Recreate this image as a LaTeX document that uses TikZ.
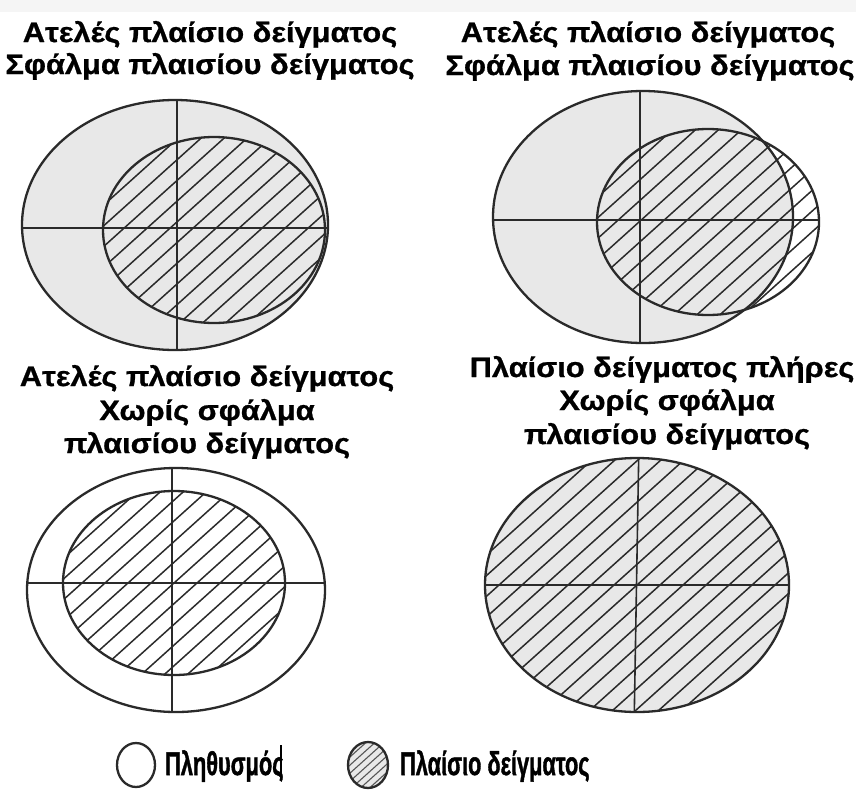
\documentclass[tikz,border=0pt]{standalone}
\usepackage{fontspec}
\setmainfont{Liberation Sans}
\newfontfamily\heavyfont[FakeBold=0.8]{Liberation Sans Bold}
\newfontfamily\legfont[FakeBold=1.6]{Liberation Sans Bold}
\definecolor{fillgray}{HTML}{E8E8E8}
\definecolor{inkc}{HTML}{2A2A2A}
\newcommand\myhatch[6]{% cx cy rx ry spacing count
  \begin{scope}
    \clip (#1,#2) ellipse [x radius=#3, y radius=#4];
    \foreach \i in {-#6,...,#6}
      \draw[hatchline] ({#1+\i*#5-300},{#2+270}) -- ++(600,-540);
  \end{scope}}
\begin{document}
\begin{tikzpicture}[x=1pt,y=-1pt,
  outline/.style={draw=inkc,line width=2.3pt},
  hatchline/.style={draw=inkc,line width=1.5pt},
  crossline/.style={draw=inkc,line width=1.6pt},
  title/.style={font=\heavyfont\fontsize{28}{30}\selectfont,anchor=base,inner sep=0pt,xscale=1.1},
  legend/.style={font=\legfont\fontsize{33}{36}\selectfont,anchor=base west,inner sep=0pt,xscale=0.66}]
\useasboundingbox (0,0) rectangle (856,790);
\fill[white] (0,0) rectangle (856,790);
\fill[black!4] (0,0) rectangle (856,12);

% ---------- panel 1 (top left)
\fill[fillgray] (175,225) ellipse [x radius=153, y radius=125];
\myhatch{214}{230}{111}{93}{23}{20}
\begin{scope}
  \clip (175,225) ellipse [x radius=153, y radius=125];
  \draw[crossline] (177,90) -- (177,360);
  \draw[crossline] (10,228) -- (340,228);
\end{scope}
\draw[outline] (175,225) ellipse [x radius=153, y radius=125];
\draw[outline] (214,230) ellipse [x radius=111, y radius=93];
\node[title] (t1a) at (210,42) {Ατελές πλαίσιο δείγματος};
\node[title] (t1b) at (210,74) {Σφάλμα πλαισίου δείγματος};

% ---------- panel 2 (top right)
\fill[fillgray] (643,217) ellipse [x radius=150, y radius=126];
\fill[white] (708,222) ellipse [x radius=111, y radius=93];
\begin{scope}
  \clip (643,217) ellipse [x radius=150, y radius=126];
  \fill[fillgray] (708,222) ellipse [x radius=111, y radius=93];
\end{scope}
\myhatch{708}{222}{111}{93}{23}{20}
\begin{scope}
  \clip (643,217) ellipse [x radius=150, y radius=126]
        (708,222) ellipse [x radius=111, y radius=93];
  \draw[crossline] (640,80) -- (640,360);
  \draw[crossline] (480,220) -- (830,220);
\end{scope}
\draw[outline] (643,217) ellipse [x radius=150, y radius=126];
\draw[outline] (708,222) ellipse [x radius=111, y radius=93];
\node[title] (t2a) at (648,42) {Ατελές πλαίσιο δείγματος};
\node[title] (t2b) at (650,75) {Σφάλμα πλαισίου δείγματος};

% ---------- panel 3 (bottom left)
\fill[white] (176,590) ellipse [x radius=149, y radius=122];
\myhatch{174}{583}{111}{92}{23}{20}
\begin{scope}
  \clip (176,590) ellipse [x radius=149, y radius=122];
  \draw[crossline] (172,450) -- (172,730);
  \draw[crossline] (10,583) -- (340,583);
\end{scope}
\draw[outline] (176,590) ellipse [x radius=149, y radius=122];
\draw[outline] (174,583) ellipse [x radius=111, y radius=92];
\node[title] (t3a) at (207,386) {Ατελές πλαίσιο δείγματος};
\node[title] (t3b) at (207,420) {Χωρίς σφάλμα};
\node[title] (t3c) at (207,453) {πλαισίου δείγματος};

% ---------- panel 4 (bottom right)
\fill[fillgray] (637,585) ellipse [x radius=152, y radius=127];
\myhatch{637}{585}{152}{127}{23}{22}
\begin{scope}
  \clip (637,585) ellipse [x radius=152, y radius=127];
  \draw[crossline] (639,440) -- (634,730);
  \draw[crossline] (470,585) -- (800,585);
\end{scope}
\draw[outline] (637,585) ellipse [x radius=152, y radius=127];
\node[title] (t4a) at (662,377) {Πλαίσιο δείγματος πλήρες};
\node[title] (t4b) at (667,410) {Χωρίς σφάλμα};
\node[title] (t4c) at (667,444) {πλαισίου δείγματος};

% ---------- legend
\draw[outline,fill=white] (136,765) ellipse [x radius=19, y radius=22];
\node[legend] (l1) at (165,775) {Πληθυσμός};
\draw[draw=black,line width=1.6pt] (281,745) -- (281,780);
\fill[fillgray] (368,765) ellipse [x radius=20, y radius=23];
\begin{scope}
  \clip (368,765) ellipse [x radius=20, y radius=23];
  \foreach \i in {-5,...,5}
    \draw[draw=inkc!80,line width=1.1pt] ({368+\i*9-40},{765+36}) -- ++(80,-72);
\end{scope}
\draw[outline] (368,765) ellipse [x radius=20, y radius=23];
\node[legend] (l2) at (400,775) {Πλαίσιο δείγματος};
\end{tikzpicture}
\end{document}
